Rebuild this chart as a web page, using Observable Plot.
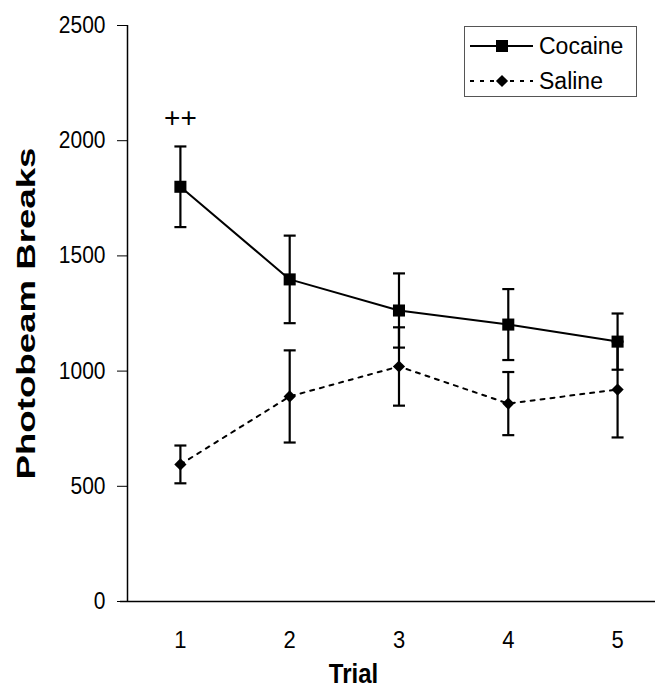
<!DOCTYPE html>
<html>
<head>
<meta charset="utf-8">
<script src="https://cdn.jsdelivr.net/npm/d3@7"></script>
<script src="https://cdn.jsdelivr.net/npm/@observablehq/plot@0.6"></script>
<style>
  body { margin: 0; background: #fff; font-family: "Liberation Sans", Arial, sans-serif; }
  #wrap { position: relative; width: 657px; height: 690px; }
  #legend { position: absolute; left: 0; top: 0; }
</style>
</head>
<body>
<div id="wrap"></div>
<script>
const trials = [1, 2, 3, 4, 5];
const cocaineMean = [1800, 1398, 1263, 1202, 1128];
const cocaineSE   = [175, 190, 161, 154, 122];
const salineMean  = [595, 890, 1020, 859, 920];
const salineSE    = [82, 200, 170, 137, 208];
const yTicks = [0, 500, 1000, 1500, 2000, 2500];
const seriesNames = ["Cocaine", "Saline"];
const annotation = [{trial: 1, y: 2100, text: "++"}];
const yLabel = "Photobeam Breaks";
const xLabel = "Trial";

const cocaine = trials.map((t, i) => ({trial: t, mean: cocaineMean[i], se: cocaineSE[i]}));
const saline = trials.map((t, i) => ({trial: t, mean: salineMean[i], se: salineSE[i]}));
const xDomain = [0.516, 5.347];

const capSymbol = {
  draw(ctx, size) {
    const w = Math.sqrt(size / Math.PI);
    ctx.moveTo(-w, 0);
    ctx.lineTo(w, 0);
  }
};

function errMarks(data) {
  return [
    Plot.ruleX(data, {x: "trial", y1: d => d.mean - d.se, y2: d => d.mean + d.se, stroke: "#000", strokeWidth: 2.2}),
    Plot.dot(data, {x: "trial", y: d => d.mean - d.se, symbol: capSymbol, r: 6, fill: "none", stroke: "#000", strokeWidth: 2.2}),
    Plot.dot(data, {x: "trial", y: d => d.mean + d.se, symbol: capSymbol, r: 6, fill: "none", stroke: "#000", strokeWidth: 2.2})
  ];
}

const chart = Plot.plot({
  width: 657,
  height: 690,
  marginLeft: 127,
  marginTop: 25,
  marginBottom: 89,
  marginRight: 2,
  style: {fontFamily: "'Liberation Sans', Arial, sans-serif", color: "#000", background: "#fff"},
  x: {domain: xDomain},
  y: {domain: [0, 2500]},
  marks: [
    Plot.ruleX([xDomain[0]], {y1: 0, y2: 2500, stroke: "#000", strokeWidth: 1.5}),
    Plot.ruleY([0], {x1: xDomain[0], x2: xDomain[1], insetLeft: -7, stroke: "#000", strokeWidth: 1.5}),
    Plot.axisY({ticks: yTicks, tickSize: 10, tickPadding: 12, fontSize: 21, label: null, tickFormat: d => String(d)}),
    Plot.axisX({ticks: trials, tickSize: 0, tickPadding: 29, fontSize: 22, label: null, tickFormat: d => String(d)}),
    Plot.line(saline, {x: "trial", y: "mean", stroke: "#000", strokeWidth: 2, strokeDasharray: "4,6"}),
    Plot.line(cocaine, {x: "trial", y: "mean", stroke: "#000", strokeWidth: 2}),
    ...errMarks(saline),
    ...errMarks(cocaine),
    Plot.dot(saline, {x: "trial", y: "mean", symbol: "diamond2", r: 5.5, fill: "#000", stroke: "none"}),
    Plot.dot(cocaine, {x: "trial", y: "mean", symbol: "square", r: 6.8, fill: "#000", stroke: "none"}),
    Plot.text(annotation, {x: "trial", y: "y", text: "text", fontSize: 28, fill: "#000"}),
    Plot.text([yLabel], {frameAnchor: "left", dx: -101, rotate: -90, textAnchor: "middle", fontSize: 25, fontWeight: "bold", fill: "#000"}),
    Plot.text([xLabel], {frameAnchor: "bottom", dx: -38, dy: 81, fontSize: 24, fontWeight: "bold", fill: "#000"})
  ]
});

const wrap = document.getElementById("wrap");
wrap.appendChild(chart);

// emulate the vertical stretch of the scanned figure's lettering
const stretch = (sel, s) => chart.querySelectorAll(sel).forEach(t => {
  const tr = t.getAttribute("transform") || "";
  t.setAttribute("transform", tr + ` scale(1,${s})`);
});
stretch('g[aria-label="y-axis tick label"] text', 1.13);
stretch('g[aria-label="x-axis tick label"] text', 1.1);
chart.querySelectorAll("text").forEach(t => {
  if (t.textContent === yLabel) {
    t.setAttribute("textLength", 332);
    t.setAttribute("lengthAdjust", "spacingAndGlyphs");
  } else if (t.textContent === xLabel) {
    const tr = t.getAttribute("transform") || "";
    t.setAttribute("transform", tr + " scale(1,1.15)");
  }
});

// Legend overlay
const leg = d3.select(wrap).append("svg").attr("id", "legend").attr("width", 657).attr("height", 120);
leg.append("rect").attr("x", 464.5).attr("y", 26.5).attr("width", 172).attr("height", 70)
  .attr("fill", "#fff").attr("stroke", "#555").attr("stroke-width", 1);
const rows = [
  {name: seriesNames[0], y: 46, dash: null, sym: d3.symbolSquare, size: 12 * 12},
  {name: seriesNames[1], y: 81, dash: "4,6", sym: d3.symbolDiamond2, size: 95}
];
rows.forEach(r => {
  leg.append("line").attr("x1", 470).attr("x2", 533).attr("y1", r.y).attr("y2", r.y)
    .attr("stroke", "#000").attr("stroke-width", 2).attr("stroke-dasharray", r.dash);
  leg.append("path").attr("d", d3.symbol(r.sym, r.size)()).attr("transform", `translate(502,${r.y})`).attr("fill", "#000");
  leg.append("text").attr("x", 539).attr("y", r.y).attr("dy", "0.35em").attr("font-size", 23)
    .attr("font-family", "'Liberation Sans', Arial, sans-serif").attr("fill", "#000").text(r.name);
});
</script>
</body>
</html>
